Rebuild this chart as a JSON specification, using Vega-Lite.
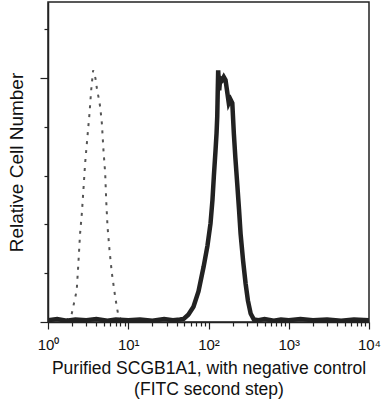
{
  "$schema": "https://vega.github.io/schema/vega-lite/v6.json",
  "width": 321,
  "height": 320,
  "autosize": {"type": "none"},
  "padding": {"left": 48, "top": 2, "right": 13, "bottom": 78},
  "background": "white",
  "config": {
    "view": {"stroke": "#222", "strokeWidth": 1.5},
    "font": "Liberation Sans"
  },
  "datasets": {
    "sample": [
      {"x": 1, "y": 0.03}, {"x": 1.3, "y": 0.05}, {"x": 1.7, "y": 0.02}, {"x": 2.2, "y": 0.04},
      {"x": 3, "y": 0.03}, {"x": 4, "y": 0.05}, {"x": 5.5, "y": 0.02}, {"x": 7, "y": 0.04},
      {"x": 10, "y": 0.03}, {"x": 14, "y": 0.04}, {"x": 20, "y": 0.02}, {"x": 28, "y": 0.05},
      {"x": 36, "y": 0.03}, {"x": 44, "y": 0.04}, {"x": 49, "y": 0.05}, {"x": 56, "y": 0.12},
      {"x": 65, "y": 0.25}, {"x": 75, "y": 0.5}, {"x": 87, "y": 0.91}, {"x": 97, "y": 1.25},
      {"x": 106, "y": 1.62}, {"x": 112, "y": 2.0}, {"x": 116.5, "y": 2.38}, {"x": 122.4, "y": 2.82},
      {"x": 126, "y": 3.1}, {"x": 128.5, "y": 3.37}, {"x": 130, "y": 3.7}, {"x": 132, "y": 4.13},
      {"x": 136, "y": 3.8}, {"x": 140, "y": 4.0}, {"x": 148, "y": 3.97}, {"x": 155, "y": 4.02},
      {"x": 163, "y": 3.97}, {"x": 170, "y": 3.8}, {"x": 179, "y": 3.59}, {"x": 188, "y": 3.65},
      {"x": 198, "y": 3.59}, {"x": 207, "y": 3.09}, {"x": 216, "y": 2.7}, {"x": 228, "y": 2.27},
      {"x": 240, "y": 1.85}, {"x": 251, "y": 1.45}, {"x": 270, "y": 1.0}, {"x": 290, "y": 0.63},
      {"x": 310, "y": 0.35}, {"x": 335, "y": 0.14}, {"x": 368, "y": 0.04}, {"x": 420, "y": 0.03},
      {"x": 500, "y": 0.05}, {"x": 650, "y": 0.02}, {"x": 800, "y": 0.04}, {"x": 1000, "y": 0.03},
      {"x": 1400, "y": 0.05}, {"x": 2000, "y": 0.03}, {"x": 3000, "y": 0.04}, {"x": 4500, "y": 0.02},
      {"x": 6500, "y": 0.04}, {"x": 10000, "y": 0.03}
    ],
    "control": [
      {"x": 1, "y": 0.03}, {"x": 1.3, "y": 0.05}, {"x": 1.6, "y": 0.02}, {"x": 1.85, "y": 0.06},
      {"x": 1.98, "y": 0.14}, {"x": 2.28, "y": 0.52}, {"x": 2.39, "y": 0.96}, {"x": 2.51, "y": 1.45},
      {"x": 2.64, "y": 1.78}, {"x": 2.76, "y": 2.16}, {"x": 2.9, "y": 2.6}, {"x": 3.1, "y": 3.04},
      {"x": 3.29, "y": 3.42}, {"x": 3.45, "y": 3.8}, {"x": 3.65, "y": 4.13}, {"x": 3.9, "y": 4.0},
      {"x": 4.1, "y": 3.8}, {"x": 4.26, "y": 3.69}, {"x": 4.47, "y": 3.53}, {"x": 4.69, "y": 3.26},
      {"x": 4.91, "y": 2.82}, {"x": 5.16, "y": 2.44}, {"x": 5.31, "y": 2.0}, {"x": 5.52, "y": 1.56},
      {"x": 5.84, "y": 1.18}, {"x": 6.25, "y": 0.8}, {"x": 6.88, "y": 0.41}, {"x": 7.2, "y": 0.25},
      {"x": 7.6, "y": 0.08}, {"x": 8.5, "y": 0.03}, {"x": 10, "y": 0.04}
    ]
  },
  "layer": [
    {
      "data": {"name": "control"},
      "mark": {"type": "line", "color": "#555", "strokeWidth": 2, "strokeDash": [3, 6], "clip": true},
      "encoding": {
        "x": {
          "field": "x", "type": "quantitative",
          "scale": {"type": "log", "domain": [1, 10000], "nice": false},
          "axis": {
            "values": [1, 2, 3, 4, 5, 6, 7, 8, 9, 10, 20, 30, 40, 50, 60, 70, 80, 90, 100, 200, 300, 400, 500, 600, 700, 800, 900, 1000, 2000, 3000, 4000, 5000, 6000, 7000, 8000, 9000, 10000],
            "labelExpr": "indexof([1,10,100,1000,10000], datum.value) >= 0 ? '10' + ['⁰','¹','²','³','⁴'][round(log(datum.value)/LN10)] : ''",
            "tickSize": {"condition": {"test": "indexof([1,10,100,1000,10000], datum.value) >= 0", "value": 7}, "value": 4},
            "tickColor": "#222", "tickWidth": 1.2,
            "domainColor": "#222", "domainWidth": 1.5,
            "grid": false,
            "labelFontSize": 15, "labelColor": "#111", "labelPadding": 8,
            "labelFlush": false, "labelOverlap": false,
            "title": ["Purified SCGB1A1, with negative control", "(FITC second step)"],
            "titleFontSize": 17.5, "titleFontWeight": "normal", "titleColor": "#111",
            "titlePadding": 7, "titleLineHeight": 21
          }
        },
        "y": {
          "field": "y", "type": "quantitative",
          "scale": {"domain": [0, 5.25], "nice": false},
          "axis": {
            "values": [0, 0.2, 0.4, 0.6, 0.8, 1, 1.2, 1.4, 1.6, 1.8, 2, 2.2, 2.4, 2.6, 2.8, 3, 3.2, 3.4, 3.6, 3.8, 4, 4.2, 4.4, 4.6, 4.8, 5, 5.2],
            "labels": false,
            "tickSize": {"condition": {"test": "abs(datum.value - round(datum.value)) < 0.01", "value": 8}, "value": 4},
            "tickColor": "#222", "tickWidth": 1.2,
            "domainColor": "#222", "domainWidth": 1.5,
            "grid": false,
            "title": "Relative Cell Number",
            "titleFontSize": 19, "titleFontWeight": "normal", "titleColor": "#111",
            "titlePadding": 13
          }
        }
      }
    },
    {
      "data": {"name": "sample"},
      "mark": {"type": "line", "color": "#222", "strokeWidth": 4.5, "clip": true},
      "encoding": {
        "x": {"field": "x", "type": "quantitative"},
        "y": {"field": "y", "type": "quantitative"}
      }
    }
  ]
}
